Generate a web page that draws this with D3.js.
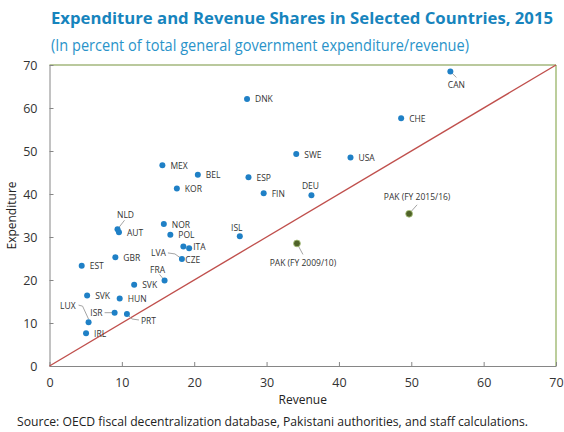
<!DOCTYPE html>
<html>
<head>
<meta charset="utf-8">
<script src="https://cdn.jsdelivr.net/npm/d3@7"></script>
<style>
  html, body { margin: 0; padding: 0; background: #fff; }
  svg { display: block; }
  text { font-family: "Open Sans", "Noto Sans", sans-serif; }
</style>
</head>
<body>
<svg id="chart" width="564" height="432"></svg>
<script>
// ---------------- DATA ----------------
const labels = ["CAN","DNK","CHE","SWE","USA","MEX","BEL","ESP","KOR","FIN","DEU",
  "NLD","AUT","NOR","POL","ISL","ITA","CZE","LVA","GBR","EST","FRA","SVK","SVK","HUN",
  "ISR","PRT","LUX","IRL","PAK (FY 2009/10)","PAK (FY 2015/16)"];
const revenue = [55.4,27.3,48.6,34.1,41.6,15.6,20.5,27.5,17.6,29.6,36.2,
  9.4,9.6,15.8,16.7,26.3,19.3,18.5,18.3,9.1,4.45,15.9,11.7,5.2,9.7,
  9.0,10.7,5.4,5.05,34.2,49.7];
const expenditure = [68.5,62.1,57.6,49.3,48.5,46.7,44.5,43.9,41.3,40.2,39.7,
  31.8,31.1,33.0,30.5,30.2,27.4,27.8,24.9,25.3,23.3,19.9,18.9,16.4,15.7,
  12.4,12.1,10.2,7.6,28.5,35.4];
const group = ["oecd","oecd","oecd","oecd","oecd","oecd","oecd","oecd","oecd","oecd","oecd",
  "oecd","oecd","oecd","oecd","oecd","oecd","oecd","oecd","oecd","oecd","oecd","oecd","oecd","oecd",
  "oecd","oecd","oecd","oecd","pak","pak"];
const xTicks = [0,10,20,30,40,50,60,70];
const yTicks = [0,10,20,30,40,50,60,70];
const axisMax = 70;

// ---------------- LAYOUT (label placement, px offsets from point) ----------------
// [dx, dy, anchor, leader points (relative) or null]
const labelLayout = {
  0:  [6, 13, "middle", [[0,0],[6,6]]],
  10: [-1, -10, "middle", null],
  11: [8, -15, "middle", [[0,0],[7,-9]]],
  15: [-3, -9, "middle", null],
  16: [4, -2, "start", null],
  17: [2, 13, "start", null],
  18: [-16, -6, "end", [[-14,-6],[-7,-5],[0,0]]],
  21: [-7, -11, "middle", [[0,0],[-5,-6]]],
  25: [-12, 0, "end", [[-10,0],[-2,0]]],
  26: [14, 7, "start", [[0,0],[5,5],[12,6]]],
  27: [-13, -17, "end", [[-10,-17],[-6,-16],[0,-3]]],
  29: [6, 19, "middle", [[0,0],[6,11]]],
  30: [8, -17, "middle", [[0,0],[8,-9]]]
};

const data = labels.map((l,i) => ({label:l, x:revenue[i], y:expenditure[i], g:group[i], i}));

const svg = d3.select("#chart");
const x = d3.scaleLinear().domain([0, axisMax]).range([49.5, 556]);
const y = d3.scaleLinear().domain([0, axisMax]).range([366, 65]);

// Title
svg.append("text").attr("x", 51).attr("y", 24)
  .attr("font-size", 15.5).attr("font-weight", "bold").attr("fill", "#1784bd")
  .attr("textLength", 502).attr("lengthAdjust", "spacingAndGlyphs")
  .text("Expenditure and Revenue Shares in Selected Countries, 2015");
svg.append("text").attr("x", 51).attr("y", 51)
  .attr("font-size", 15.5).attr("fill", "#2a93c9")
  .attr("textLength", 418).attr("lengthAdjust", "spacingAndGlyphs")
  .text("(In percent of total general government expenditure/revenue)");

// Top and right frame
svg.append("line").attr("x1", x(0)).attr("x2", x(axisMax)).attr("y1", y(axisMax)).attr("y2", y(axisMax))
  .attr("stroke", "#77933c").attr("stroke-width", 1.2);
svg.append("line").attr("x1", x(axisMax)).attr("x2", x(axisMax)).attr("y1", y(axisMax)).attr("y2", y(0))
  .attr("stroke", "#8fae5a").attr("stroke-width", 1.2);

// Axes
const xAxis = d3.axisBottom(x).tickValues(xTicks).tickSizeInner(-4).tickSizeOuter(0).tickPadding(12);
const yAxis = d3.axisLeft(y).tickValues(yTicks).tickSizeInner(-4).tickSizeOuter(0).tickPadding(12);
const gx = svg.append("g").attr("transform", `translate(0,${y(0)})`).call(xAxis);
const gy = svg.append("g").attr("transform", `translate(${x(0)},0)`).call(yAxis);
[gx, gy].forEach(g => {
  g.select(".domain").attr("stroke", "#868686");
  g.selectAll(".tick line").attr("stroke", "#868686");
  g.selectAll(".tick text").attr("font-size", 12.5).attr("fill", "#333")
    .attr("font-family", "'Open Sans', 'Noto Sans', sans-serif");
});
gx.selectAll(".tick text").attr("dy", "0.71em");

// Axis titles
svg.append("text").attr("x", (x(0)+x(axisMax))/2).attr("y", 404).attr("text-anchor", "middle")
  .attr("font-size", 12).attr("fill", "#222").text("Revenue");
svg.append("text").attr("transform", `translate(16,${(y(0)+y(axisMax))/2}) rotate(-90)`)
  .attr("text-anchor", "middle").attr("font-size", 12).attr("fill", "#222").text("Expenditure");

// 45-degree line
svg.append("line").attr("x1", x(0)).attr("y1", y(0)).attr("x2", x(axisMax)).attr("y2", y(axisMax))
  .attr("stroke", "#c0504d").attr("stroke-width", 1.4);

// Leaders
const line = d3.line();
data.forEach(d => {
  const lay = labelLayout[d.i];
  if (lay && lay[3]) {
    const px = x(d.x), py = y(d.y);
    svg.append("path").attr("d", line(lay[3].map(p => [px+p[0], py+p[1]])))
      .attr("fill", "none").attr("stroke", "#9a9a9a").attr("stroke-width", 0.9);
  }
});

// Points
svg.append("g").selectAll("circle").data(data).join("circle")
  .attr("cx", d => x(d.x)).attr("cy", d => y(d.y))
  .attr("r", d => d.g === "pak" ? 3.4 : 3)
  .attr("fill", d => d.g === "pak" ? "#4f6228" : "#1f80c6")
  .attr("stroke", d => d.g === "pak" ? "#a9c47a" : "none")
  .attr("stroke-width", 0.8);

// Labels
svg.append("g").selectAll("text").data(data).join("text")
  .attr("x", d => x(d.x) + (labelLayout[d.i] ? labelLayout[d.i][0] : 8))
  .attr("y", d => y(d.y) + (labelLayout[d.i] ? labelLayout[d.i][1] : 0))
  .attr("text-anchor", d => labelLayout[d.i] ? labelLayout[d.i][2] : "start")
  .attr("dominant-baseline", "central")
  .attr("font-size", 8.5).attr("fill", "#333")
  .text(d => d.label);

// Source
svg.append("text").attr("x", 17).attr("y", 426).attr("font-size", 12.5).attr("fill", "#222")
  .attr("textLength", 511).attr("lengthAdjust", "spacingAndGlyphs")
  .text("Source: OECD fiscal decentralization database, Pakistani authorities, and staff calculations.");
</script>
</body>
</html>
